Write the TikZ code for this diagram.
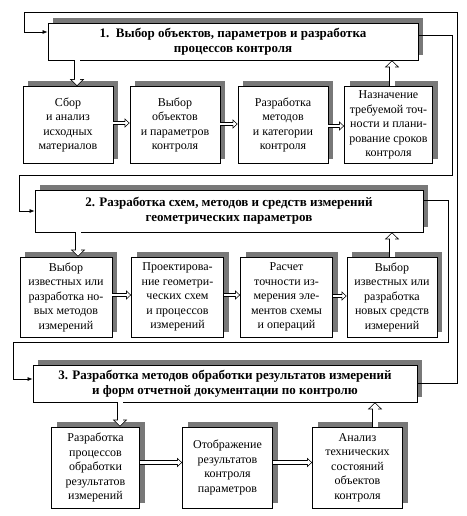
\documentclass[tikz,border=0pt]{standalone}
\usepackage{fontspec}
\setmainfont{Liberation Serif}
\usepackage{tikz}
\usetikzlibrary{arrows.meta,shadows}
\definecolor{shadc}{RGB}{120,120,120}

\begin{document}
\begin{tikzpicture}[x=1pt,y=-1pt,>={Latex[length=5pt,width=4pt]},
  framebox/.style={draw,line width=0.8pt,fill=white,align=center,inner sep=1pt,
    drop shadow={shadow xshift=5pt,shadow yshift=5pt,fill=shadc,opacity=1}},
  stagebox/.style={framebox,font=\bfseries\fontsize{13}{15}\selectfont},
  taskbox/.style={framebox,font=\fontsize{12}{14.5}\selectfont,minimum width=#1},
  taskbox/.default=90pt,
  % hollow arrows: black outline first, white inside on top
  hollowv/.style={line width=6.6pt,-{Triangle[length=7pt,width=14pt]},
    postaction={draw=white,line width=5pt,shorten >=1.05pt,-{Triangle[length=5.2pt,width=10.4pt]}}},
  hollowh/.style={line width=4.2pt,-{Triangle[length=5pt,width=9pt]},
    postaction={draw=white,line width=2.6pt,shorten >=1.05pt,-{Triangle[length=3.25pt,width=5.9pt]}}},
  feedback/.style={line width=0.7pt,->}]
\useasboundingbox (0,0) rectangle (466,516);
% three stages of the procedure
\node[stagebox,minimum width=370pt,minimum height=37pt] (st1) at (233,41.5) {1.\ \ Выбор объектов, параметров и разработка\\процессов контроля};
\node[stagebox,minimum width=388pt,minimum height=42pt] (st2) at (229,211) {2. Разработка схем, методов и средств измерений\\геометрических параметров};
\node[stagebox,minimum width=384pt,minimum height=37pt] (st3) at (225,383.5) {3. Разработка методов обработки результатов измерений\\и форм отчетной документации по контролю};
% stage 1 tasks
\node[taskbox,minimum height=77pt] (sbor) at (68,125) {Сбор\\и анализ\\исходных\\материалов};
\node[taskbox,minimum height=77pt] (vybob) at (175,125) {Выбор\\объектов\\и параметров\\контроля};
\node[taskbox,minimum height=77pt] (razmet) at (283,125) {Разработка\\методов\\и категории\\контроля};
\node[taskbox=88pt,minimum height=77pt] (naznach) at (388.5,125) {Назначение\\требуемой точ-\\ности и плани-\\рование сроков\\контроля};
% stage 2 tasks
\node[taskbox=92pt,minimum height=80pt] (vybmet) at (66,297) {Выбор\\известных или\\разработка но-\\вых методов\\измерений};
\node[taskbox=92pt,minimum height=80pt] (proekt) at (177.5,297) {Проектирова-\\ние геометри-\\ческих схем\\и процессов\\измерений};
\node[taskbox=92pt,minimum height=80pt] (raschet) at (286.5,297) {Расчет\\точности из-\\мерения эле-\\ментов схемы\\и операций};
\node[taskbox,minimum height=80pt] (vybsr) at (392,297) {Выбор\\известных или\\разработка\\новых средств\\измерений};
% stage 3 tasks
\node[taskbox=88pt,minimum height=81pt] (obrab) at (95.5,467.5) {Разработка\\процессов\\обработки\\результатов\\измерений};
\node[taskbox=90pt,minimum height=81pt] (otobr) at (227.5,467.5) {Отображение\\результатов\\контроля\\параметров};
\node[taskbox=90pt,minimum height=81pt] (analiz) at (357.5,467.5) {Анализ\\технических\\состояний\\объектов\\контроля};
% down into the first task, along the row, up from the last
\draw[hollowv] ([xshift=9pt]sbor.north |- st1.south) -- ([xshift=9pt]sbor.north);
\draw[hollowh] ([yshift=2pt]sbor.east) -- ([yshift=2pt]vybob.west);
\draw[hollowh] ([yshift=1pt]vybob.east) -- ([yshift=1pt]razmet.west);
\draw[hollowh] ([yshift=-1pt]razmet.east) -- ([yshift=-1pt]naznach.west);
\draw[hollowv] ([xshift=3.5pt]naznach.north) -- ([xshift=3.5pt]naznach.north |- st1.south);
\draw[hollowv] ([xshift=12pt]vybmet.north |- st2.south) -- ([xshift=12pt]vybmet.north);
\draw[hollowh] ([yshift=2pt]vybmet.east) -- ([yshift=2pt]proekt.west);
\draw[hollowh] ([yshift=2pt]proekt.east) -- ([yshift=2pt]raschet.west);
\draw[hollowh] ([yshift=1pt]raschet.east) -- ([yshift=1pt]vybsr.west);
\draw[hollowv] (vybsr.north) -- (vybsr.north |- st2.south);
\draw[hollowv] ([xshift=24.5pt]obrab.north |- st3.south) -- ([xshift=24.5pt]obrab.north);
\draw[hollowh] ([yshift=5pt]obrab.east) -- ([yshift=5pt]obrab.east -| otobr.west);
\draw[hollowh] ([yshift=5pt]otobr.east) -- ([yshift=5pt]otobr.east -| analiz.west);
\draw[hollowv] ([xshift=17.5pt]analiz.north) -- ([xshift=17.5pt]analiz.north |- st3.south);
% thin lines from one stage to the next, and back from the last
\coordinate (r1) at (452,175);
\coordinate (l1) at (19,211);
\coordinate (r2) at (448,342);
\coordinate (l2) at (13,379);
\coordinate (r3) at (457,12);
\coordinate (l3) at (24,32);
\draw[feedback] ([yshift=6pt]st1.east) -| (r1) -| (l1) -- (st2.west);
\draw[feedback] ([yshift=11pt]st2.east) -| (r2) -| (l2) -- (l2 -| st3.west);
\draw[feedback] (st3.east) -| (r3) -| (l3) -- (l3 -| st1.west);
\end{tikzpicture}
\end{document}
